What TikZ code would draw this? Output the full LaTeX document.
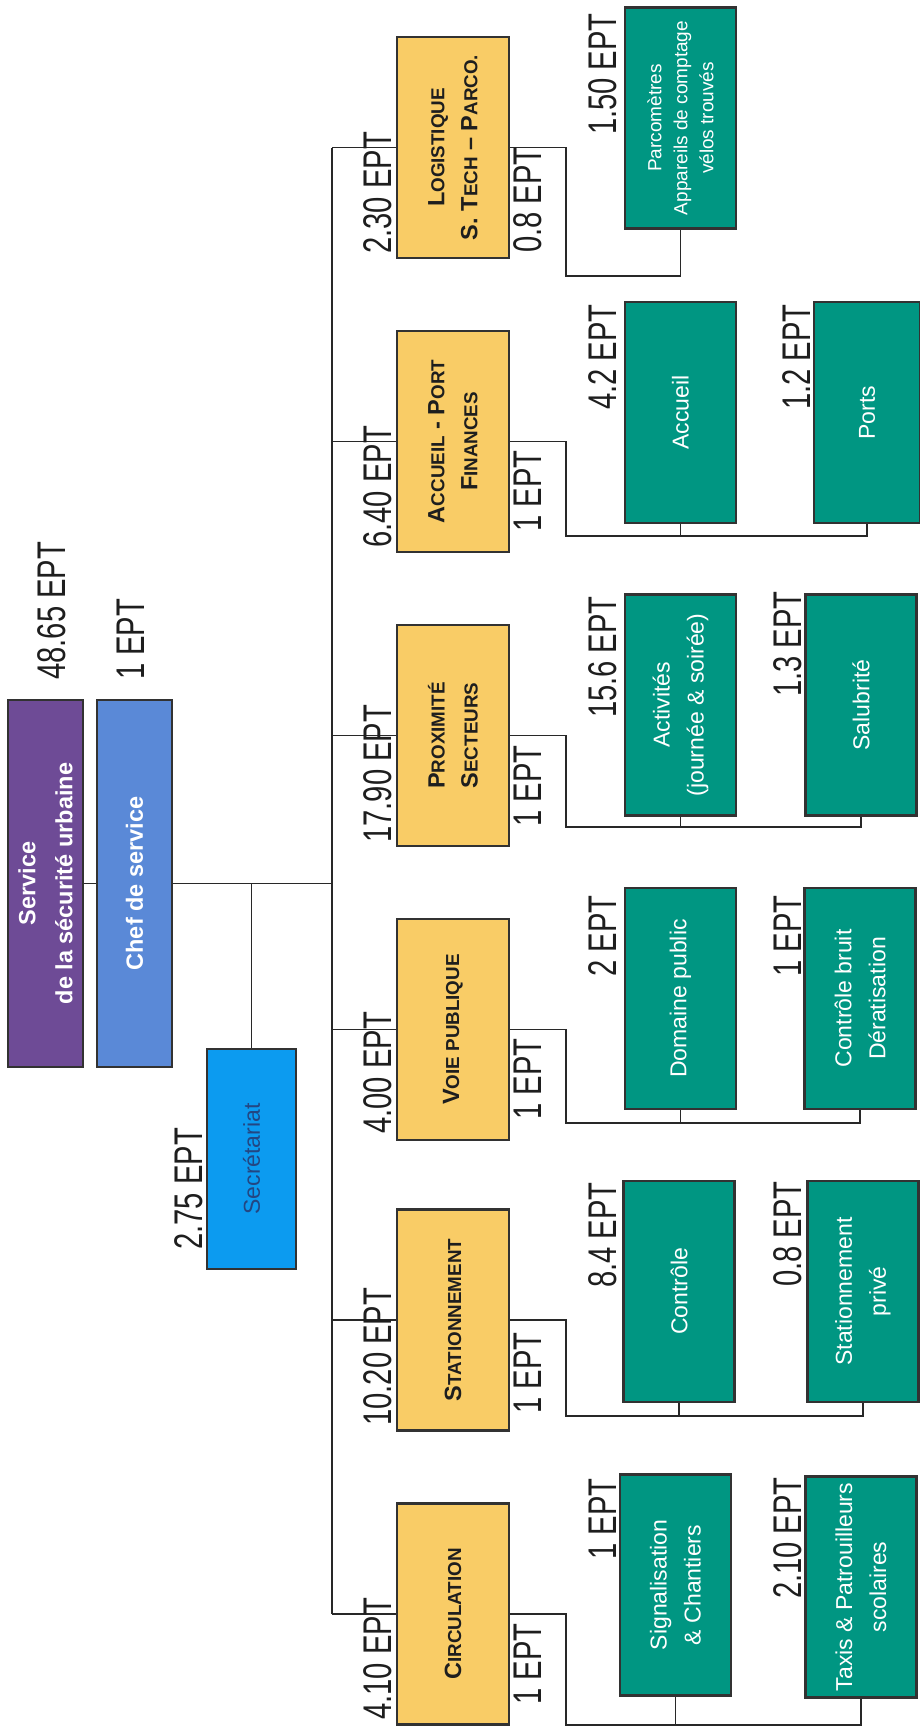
\documentclass[tikz,border=0pt]{standalone}
\usepackage{fontspec}
\setmainfont{Liberation Sans}
\newfontfamily\eptf[FakeStretch=0.73]{Liberation Sans}
\definecolor{purp}{RGB}{110,75,150}
\definecolor{chefb}{RGB}{90,137,215}
\definecolor{secb}{RGB}{12,155,240}
\definecolor{sectxt}{RGB}{35,70,130}
\definecolor{yel}{RGB}{249,204,102}
\definecolor{grn}{RGB}{0,150,130}
\definecolor{bordc}{RGB}{50,50,50}
\definecolor{linec}{RGB}{40,40,40}
\definecolor{lbl}{RGB}{30,30,30}
\newcommand\Sm[1]{{\fontsize{18.8}{33}\selectfont #1}}
\tikzset{
  orgbox/.style={draw=bordc, line width=2.5pt, rotate=90, inner sep=0pt, align=center},
  ylbox/.style={orgbox, fill=yel, minimum width=221pt, minimum height=112pt,
    font=\fontsize{23.5}{33}\selectfont\bfseries, text=lbl},
  gnbox/.style={orgbox, fill=grn, minimum width=221pt, minimum height=111pt,
    font=\fontsize{23}{34}\selectfont, text=white},
  eptlbl/.style={rotate=90, inner sep=0pt, font=\eptf\fontsize{40}{40}\selectfont, text=lbl},
  link/.style={draw=linec, line width=1.8pt},
}
\begin{document}
\begin{tikzpicture}[x=1pt,y=-1pt]
\useasboundingbox (0,0) rectangle (920,1729);
\coordinate (tr) at (332,0);
% top level
\node[orgbox, fill=purp, minimum width=367pt, minimum height=75pt, text=white,
  font=\fontsize{23.5}{37}\selectfont\bfseries] (P) at (45.5,883.5) {Service\\de la sécurité urbaine};
\node[orgbox, fill=chefb, minimum width=367pt, minimum height=75pt, text=white,
  font=\fontsize{23.5}{37}\selectfont\bfseries] (C) at (134.5,883.5) {Chef de service};
\node[orgbox, fill=secb, minimum width=220pt, minimum height=89pt, text=sectxt,
  font=\fontsize{23}{34}\selectfont] (S) at (251.5,1159) {Secrétariat};
% yellow
\node[ylbox] (Y1) at (453,147.5) {L\Sm{OGISTIQUE}\\S. T\Sm{ECH} – P\Sm{ARCO.}};
\node[ylbox] (Y2) at (453,441.5) {A\Sm{CCUEIL} - P\Sm{ORT}\\F\Sm{INANCES}};
\node[ylbox] (Y3) at (453,735.5) {P\Sm{ROXIMITÉ}\\S\Sm{ECTEURS}};
\node[ylbox] (Y4) at (453,1029.5) {V\Sm{OIE PUBLIQUE}};
\node[ylbox] (Y5) at (453,1320) {S\Sm{TATIONNEMENT}};
\node[ylbox] (Y6) at (453,1614) {C\Sm{IRCULATION}};
% green
\node[gnbox, font=\fontsize{19}{26}\selectfont] (G1a) at (680.5,118) {Parcomètres\\Appareils de comptage\\vélos trouvés};
\node[gnbox] (G2a) at (680.5,412.5) {Accueil};
\node[gnbox, minimum height=106pt] (G2b) at (867,412.5) {Ports};
\node[gnbox] (G3a) at (680.5,705) {Activités\\(journée \& soirée)};
\node[gnbox] (G3b) at (861,705) {Salubrité};
\node[gnbox] (G4a) at (680.5,998.5) {Domaine public};
\node[gnbox] (G4b) at (860,998.5) {Contrôle bruit\\Dératisation};
\node[gnbox] (G5a) at (679,1291.5) {Contrôle};
\node[gnbox] (G5b) at (863,1291.5) {Stationnement\\privé};
\node[gnbox] (G6a) at (675.5,1585) {Signalisation\\\& Chantiers};
\node[gnbox] (G6b) at (861,1587) {Taxis \& Patrouilleurs\\scolaires};
% connectors top
\draw[link] (P.south) -- (C.north);
\draw[link] (C.south) -- (C.south -| tr);
\draw[link] (S.east) -- (S.east |- C.south);
\draw[link] (Y1.north -| tr) -- (Y6.north -| tr);
\foreach \y in {Y1,Y2,Y3,Y4,Y5,Y6} { \draw[link] (\y.north -| tr) -- (\y.north); }
% sub connectors
\coordinate (b1) at (566,276);
\coordinate (b2) at (566,536);
\coordinate (b3) at (566,827);
\coordinate (b4) at (566,1123);
\coordinate (b5) at (566,1416);
\coordinate (b6) at (566,1725);
\draw[link] (Y1.south) -| (b1) -| (G1a.west);
\draw[link] (Y2.south) -| (b2) -| (G2b.west);
\draw[link] (G2a.west) -- (G2a.west |- b2);
\draw[link] (Y3.south) -| (b3) -| (G3b.west);
\draw[link] (G3a.west) -- (G3a.west |- b3);
\draw[link] (Y4.south) -| (b4) -| (G4b.west);
\draw[link] (G4a.west) -- (G4a.west |- b4);
\draw[link] (Y5.south) -| (b5) -| (G5b.west);
\draw[link] (G5a.west) -- (G5a.west |- b5);
\draw[link] (Y6.south) -| (b6) -| (G6b.west);
\draw[link] (G6a.west) -- (G6a.west |- b6);
% labels top level
\node[eptlbl, anchor=base west] (lP) at (65,680) {48.65 EPT};
\node[eptlbl, anchor=base west] (lC) at (144,680) {1 EPT};
\node[eptlbl, anchor=base west] (lS) at (202,1250) {2.75 EPT};
% totals
\node[eptlbl, anchor=base west] (t1) at (391,254) {2.30 EPT};
\node[eptlbl, anchor=base west] (t2) at (391,548) {6.40 EPT};
\node[eptlbl, anchor=base west] (t3) at (391,843) {17.90 EPT};
\node[eptlbl, anchor=base west] (t4) at (391,1134) {4.00 EPT};
\node[eptlbl, anchor=base west] (t5) at (391,1426) {10.20 EPT};
\node[eptlbl, anchor=base west] (t6) at (391,1720) {4.10 EPT};
% heads
\node[eptlbl, anchor=base west] (h1) at (541,253) {0.8 EPT};
\node[eptlbl, anchor=base east] (h2) at (541,450) {1 EPT};
\node[eptlbl, anchor=base east] (h3) at (541,745) {1 EPT};
\node[eptlbl, anchor=base east] (h4) at (541,1038) {1 EPT};
\node[eptlbl, anchor=base east] (h5) at (541,1332) {1 EPT};
\node[eptlbl, anchor=base east] (h6) at (541,1623) {1 EPT};
% green labels
\node[eptlbl, anchor=base east] (g1a) at (616,13) {1.50 EPT};
\node[eptlbl, anchor=base east] (g2a) at (616,304) {4.2 EPT};
\node[eptlbl, anchor=base east] (g2b) at (810,304) {1.2 EPT};
\node[eptlbl, anchor=base east] (g3a) at (616,596) {15.6 EPT};
\node[eptlbl, anchor=base east] (g3b) at (801,591) {1.3 EPT};
\node[eptlbl, anchor=base east] (g4a) at (616,895) {2 EPT};
\node[eptlbl, anchor=base east] (g4b) at (801,895) {1 EPT};
\node[eptlbl, anchor=base east] (g5a) at (616,1182) {8.4 EPT};
\node[eptlbl, anchor=base east] (g5b) at (801,1181) {0.8 EPT};
\node[eptlbl, anchor=base east] (g6a) at (616,1478) {1 EPT};
\node[eptlbl, anchor=base east] (g6b) at (801,1477) {2.10 EPT};
\end{tikzpicture}
\end{document}
